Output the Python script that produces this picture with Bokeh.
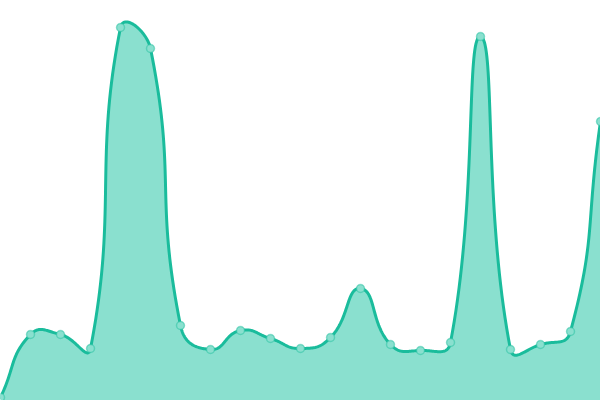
import math
from bokeh.plotting import figure
from bokeh.models import Range1d
from bokeh.embed import file_html
from bokeh.resources import INLINE

# ---- data ----
idx = list(range(21))
values = [3, 66, 66, 52, 373, 352, 75, 51, 70, 62, 52, 63, 112, 56, 50, 58, 364, 51, 56, 69, 279]

LINE_COLOR = "#1abc9c"
FILL_COLOR = "#8ae0cf"
STEP = 30.0  # horizontal pixel spacing between categories (used for smoothing aspect)


def smooth_path(xs, ys, smooth=0.5, n=40):
    """Cubic bezier smoothing (ECharts-like) computed in screen-like space."""
    px = [x * STEP for x in xs]
    py = list(ys)
    N = len(px)
    cin, cout = [], []
    for i in range(N):
        prev_i = max(i - 1, 0)
        next_i = min(i + 1, N - 1)
        vx = px[next_i] - px[prev_i]
        vy = py[next_i] - py[prev_i]
        d0 = math.hypot(px[i] - px[prev_i], py[i] - py[prev_i])
        d1 = math.hypot(px[next_i] - px[i], py[next_i] - py[i])
        r = d1 / (d0 + d1) if (d0 + d1) > 0 else 0.5
        cin.append((px[i] - vx * smooth * (1 - r), py[i] - vy * smooth * (1 - r)))
        cout.append((px[i] + vx * smooth * r, py[i] + vy * smooth * r))
    out_x, out_y = [px[0]], [py[0]]
    for i in range(N - 1):
        p0 = (px[i], py[i]); p3 = (px[i + 1], py[i + 1])
        c1 = cout[i]; c2 = cin[i + 1]
        for k in range(1, n + 1):
            t = k / n
            a = (1 - t) ** 3; b = 3 * (1 - t) ** 2 * t; c = 3 * (1 - t) * t ** 2; d = t ** 3
            out_x.append(a * p0[0] + b * c1[0] + c * c2[0] + d * p3[0])
            out_y.append(a * p0[1] + b * c1[1] + c * c2[1] + d * p3[1])
    return [x / STEP for x in out_x], out_y


sx, sy = smooth_path(idx, values)

p = figure(width=600, height=400, output_backend="svg", toolbar_location=None,
           x_range=Range1d(0, 20), y_range=Range1d(0, 400),
           min_border=0, min_border_left=0, min_border_right=0,
           min_border_top=0, min_border_bottom=0)
p.axis.visible = False
p.xgrid.visible = False
p.ygrid.visible = False
p.outline_line_color = None
p.background_fill_color = "white"
p.border_fill_color = "white"

p.varea(x=sx, y1=[-50] * len(sx), y2=sy, fill_color=FILL_COLOR, fill_alpha=1.0)
p.line(sx, sy, line_color=LINE_COLOR, line_width=3, line_join="round", line_cap="round")
p.scatter(idx, values, size=8, fill_color=FILL_COLOR, line_color=LINE_COLOR,
          line_alpha=0.45, line_width=1.5)

open("out.html", "w").write(file_html(p, INLINE))
